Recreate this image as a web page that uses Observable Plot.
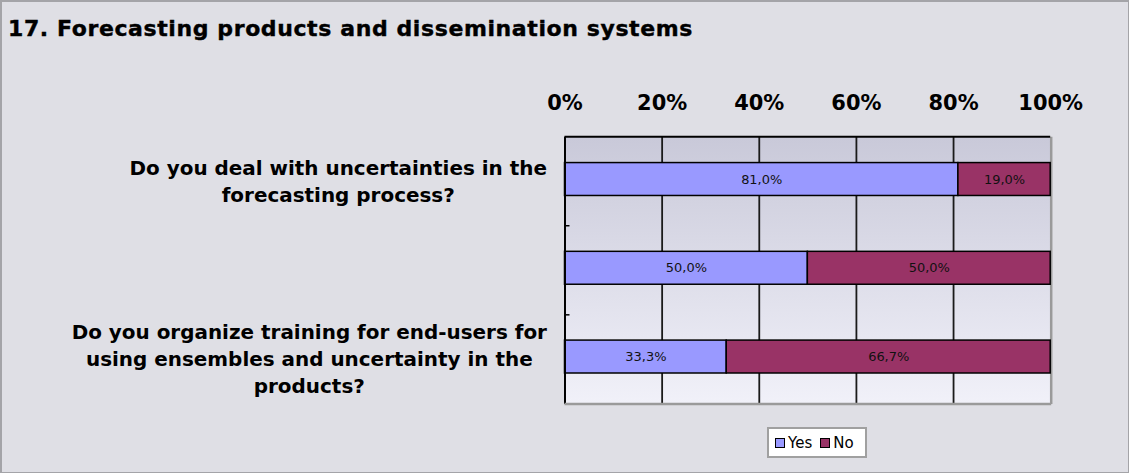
<!DOCTYPE html>
<html>
<head>
<meta charset="utf-8">
<script src="https://cdn.jsdelivr.net/npm/d3@7"></script>
<script src="https://cdn.jsdelivr.net/npm/@observablehq/plot@0.6"></script>
<style>
  html, body { margin: 0; padding: 0; background: #dfdfe5; }
  #chart {
    position: relative; width: 1129px; height: 473px; box-sizing: border-box;
    background: #dfdfe5; border: 2px solid #a4a4a8; border-bottom-width: 1px; border-right-width: 1px;
    font-family: "DejaVu Sans", sans-serif; overflow: hidden;
  }
  #title {
    position: absolute; left: 6px; top: 14px; font-weight: bold; font-size: 22px;
    color: #000; white-space: nowrap; letter-spacing: 0.6px; -webkit-text-stroke: 0.4px #000;
  }
  #plot { position: absolute; left: -2px; top: -2px; }
  #legend {
    position: absolute; left: 765px; top: 425px; height: 31px; box-sizing: border-box;
    background: #fff; border: 2px solid #a0a0a0; padding: 0 11px 0 6px;
    display: flex; align-items: center; gap: 8px; font-family: "DejaVu Sans", sans-serif; font-size: 15px;
  }
  .sw { display: inline-flex; align-items: center; gap: 3px; }
  .sw i { display: inline-block; width: 8px; height: 8px; border: 1px solid #000; }
</style>
</head>
<body>
<div id="chart">
  <div id="title">17. Forecasting products and dissemination systems</div>
  <div id="plot"></div>
  <div id="legend"></div>
</div>
<script>
// Survey questions (the middle row has no label of its own)
const questions = ["q1", "q2", "q3"];
const questionLabels = [
  "Do you deal with uncertainties in the\nforecasting process?",
  "",
  "Do you organize training for end-users for\nusing ensembles and uncertainty in the\nproducts?"
];
const answers = ["Yes", "No"];
const answerColors = ["#9999ff", "#993366"];
const yesShare = [81.0, 50.0, 33.3];
const noShare = [19.0, 50.0, 66.7];
const xTicks = [0, 20, 40, 60, 80, 100];

const rows = questions.flatMap((q, i) => [
  {q, answer: "Yes", value: yesShare[i]},
  {q, answer: "No", value: noShare[i]}
]);

const fmt = v => v.toFixed(1).replace(".", ",") + "%";
const labelSize = 20;

// Width of the longest line of each wrapped label, for centring the lines
const ctx = document.createElement("canvas").getContext("2d");
ctx.font = `bold ${labelSize}px 'DejaVu Sans'`;
const labelWidth = questionLabels.map(t => Math.max(0, ...t.split("\n").map(l => ctx.measureText(l).width)));

// Plot-area edges: inner ticks at category boundaries, black top and grey lower edge
function plotEdges(index, scales, values, dims) {
  const y = scales.y;
  const x0 = dims.marginLeft, x1 = dims.width - dims.marginRight;
  const yb = dims.height - dims.marginBottom;
  const g = d3.create("svg:g");
  const n = questions.length;
  const span = (yb - dims.marginTop) / n;
  for (let i = 1; i < n; i++) {
    const yy = dims.marginTop + span * i;
    g.append("line").attr("x1", x0).attr("x2", x0 + 5).attr("y1", yy).attr("y2", yy)
      .attr("stroke", "#000").attr("stroke-width", 1.5);
  }
  g.append("line").attr("x1", x0).attr("x2", x1 + 1).attr("y1", yb).attr("y2", yb)
    .attr("stroke", "#9a9a9a").attr("stroke-width", 2.5);
  g.append("line").attr("x1", x0).attr("x2", x1).attr("y1", dims.marginTop).attr("y2", dims.marginTop)
    .attr("stroke", "#000").attr("stroke-width", 2);
  return g.node();
}

const labelMarks = questionLabels.map((t, i) => Plot.text([t], {
  y: () => questions[i], text: d => d, frameAnchor: "left", textAnchor: "middle",
  dx: -18 - labelWidth[i] / 2, lineHeight: 1.35,
  fontSize: labelSize, fontWeight: "bold", fill: "#000"
}));

const plot = Plot.plot({
  width: 1131,
  height: 420,
  marginTop: 137,
  marginBottom: 15,
  marginLeft: 566,
  marginRight: 78,
  style: {fontFamily: "DejaVu Sans", background: "transparent", overflow: "visible"},
  x: {domain: [0, 100], axis: null},
  y: {domain: questions, axis: null, paddingInner: 0.63, paddingOuter: 0.315, align: 0.46},
  color: {domain: answers, range: answerColors},
  marks: [
    Plot.frame({fill: "url(#plotbg)"}),
    Plot.ruleX(xTicks.slice(1, -1), {stroke: "#1a1a1a", strokeWidth: 1.8}),
    Plot.ruleX([100], {stroke: "#9a9a9a", strokeWidth: 2.5, dx: 0.5}),
    Plot.barX(rows, Plot.stackX({x: "value", y: "q", fill: "answer", stroke: "#000", strokeWidth: 1.5})),
    Plot.text(rows, Plot.stackX({x: "value", y: "q", text: d => fmt(d.value), fontSize: 13, fill: "#111"})),
    Plot.ruleX([0], {stroke: "#000", strokeWidth: 2}),
    Plot.axisX(xTicks, {anchor: "top", label: null, tickSize: 0, tickPadding: 27, tickFormat: d => d + "%",
      fontSize: 21, fontWeight: "bold", fill: "#000"}),
    plotEdges,
    ...labelMarks
  ]
});

// vertical gradient used as the plot-area fill
const svg = d3.select(plot);
if (svg.select("defs").empty()) svg.insert("defs", ":first-child");
const grad = svg.select("defs").append("linearGradient").attr("id", "plotbg")
  .attr("x1", 0).attr("y1", 0).attr("x2", 0).attr("y2", 1);
grad.append("stop").attr("offset", "0%").attr("stop-color", "#c9c9d9");
grad.append("stop").attr("offset", "100%").attr("stop-color", "#f1f1f9");
document.getElementById("plot").append(plot);

// Legend built from the same answer and colour arrays
const legend = document.getElementById("legend");
answers.forEach((a, i) => {
  const s = document.createElement("span");
  s.className = "sw";
  s.innerHTML = `<i style="background:${answerColors[i]}"></i>${a}`;
  legend.append(s);
});
</script>
</body>
</html>
